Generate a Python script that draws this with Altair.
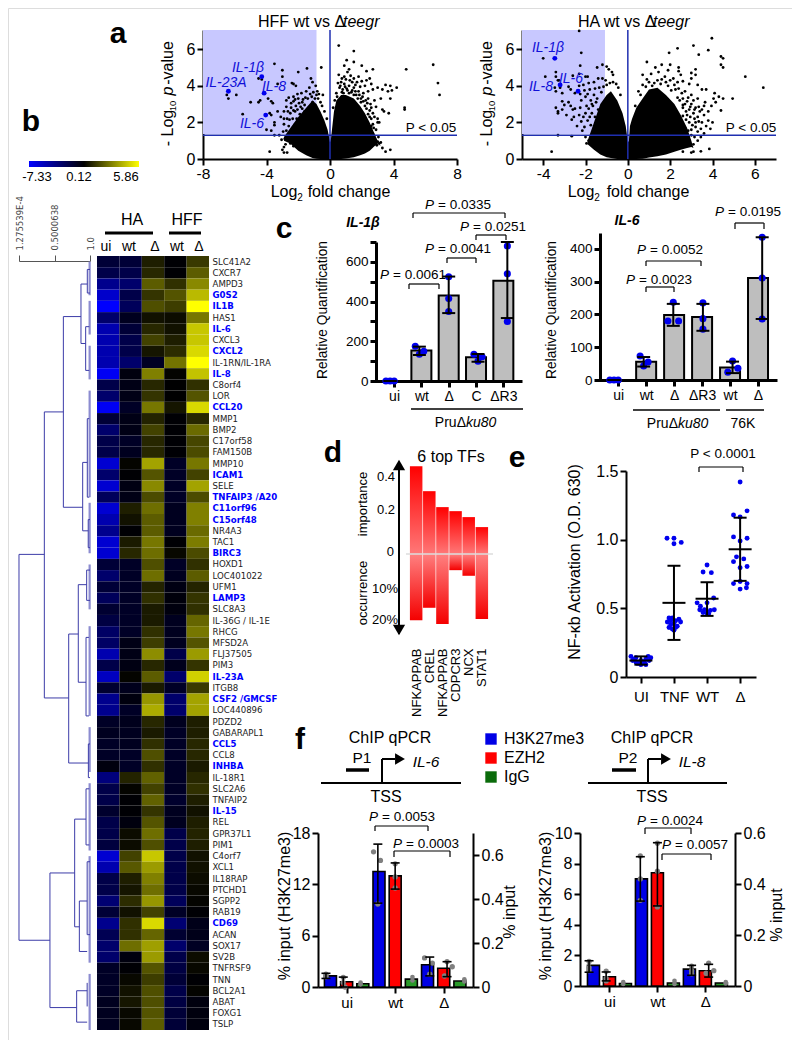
import altair as alt
import pandas as pd

W, H = 784, 1032
FONT = "Liberation Sans"
ONE = pd.DataFrame({"a": [0]})

# ---------- heat map ----------
genes = ["SLC41A2","CXCR7","AMPD3","G0S2","IL1B","HAS1","IL-6","CXCL3","CXCL2","IL-1RN/IL-1RA","IL-8","C8orf4","LOR","CCL20","MMP1","BMP2","C17orf58","FAM150B","MMP10","ICAM1","SELE","TNFAIP3 /A20","C11orf96","C15orf48","NR4A3","TAC1","BIRC3","HOXD1","LOC401022","UFM1","LAMP3","SLC8A3","IL-36G / IL-1E","RHCG","MFSD2A","FLJ37505","PIM3","IL-23A","ITGB8","CSF2 /GMCSF","LOC440896","PDZD2","GABARAPL1","CCL5","CCL8","INHBA","IL-18R1","SLC2A6","TNFAIP2","IL-15","REL","GPR37L1","PIM1","C4orf7","XCL1","IL18RAP","PTCHD1","SGPP2","RAB19","CD69","ACAN","SOX17","SV2B","TNFRSF9","TNN","BCL2A1","ABAT","FOXG1","TSLP"]
blue_genes = ["G0S2","IL1B","IL-6","CXCL2","IL-8","CCL20","ICAM1","TNFAIP3 /A20","C11orf96","C15orf48","BIRC3","LAMP3","IL-23A","CSF2 /GMCSF","CCL5","INHBA","IL-15","CD69"]
heat_cols = ["HA ui","HA wt","HA d","HFF wt","HFF d"]
ha_ui = [-1.5,-2,-4,-5.8,-7.3,-3,-5,-5,-5,-5,-7,-2,-3,-7,-1.5,-3,-2,-2,-6,-3,-6,-2.5,-6,-5,-4,-6,-6,-1.5,-3,-1.5,-2.5,-1.3,-1.8,-2.8,-2.8,-5,-2,-5.5,-1.3,-4,-4,-1,-0.8,-1,-1,-0.3,-3.5,-2,-2,-1.2,-2,-2,-1.7,-6,-5,-2,-2,-3.2,-1.5,-4,-2.3,-3,-3,-1,-1,-1,-0.8,-0.8,-0.8]
ha_wt = [-1.5,-2,-3,-2,-2.5,-0.8,-1.5,-2,-2,-3,-0.3,-0.5,-0.5,-1,-0.5,-0.5,-1,-0.8,0.2,0,-0.4,-0.5,0.8,0.5,0,0.7,1.0,-1,-1,-1,-1,-1,-1,-1,-0.5,-0.5,-0.4,0.2,-0.7,-0.3,-1,-0.7,-0.8,-0.8,-1,-1,0.9,0.2,0,0,-0.3,0.4,0.4,1.6,2.1,0.8,0.6,1.1,0.5,1.2,1.2,2.6,-0.3,0,0.3,0.5,0.6,0.3,0.3]
ha_d = [0.8,1.0,2.2,1.3,1.9,0.5,1.0,1.6,0.6,-0.9,3.0,1.0,1.3,2.8,0.9,1.6,1,1.0,3.8,2.0,3.2,1.8,2.6,2.2,2.2,2.8,2.6,1.9,2.6,0.9,1.2,0.7,0.7,1.2,1.5,3.3,1.0,2.2,0.7,3.5,4.0,1.0,0.7,1.2,1.9,1.2,2.3,1.6,2.3,1.3,2.0,2.6,1.9,4.6,3.6,3.0,2.6,3.5,1.6,5.0,2.4,3.7,3.6,2.0,1.5,1.9,1.9,2.0,2.2]
hff_wt = [0,0,1.2,2.0,1.5,0.4,0.5,0.8,1.1,2.7,0.2,0.1,0.1,0.6,0,0,0,0,-1,-1,-1,-1,-0.8,-0.8,-0.8,0,0.3,-1,-0.8,-0.4,-0.2,-0.3,-0.8,-0.8,-0.8,-2,-0.7,-3,-1,-3,-3,-0.8,-1,-1,-1,-1,-1,-1,-1.2,-0.8,-0.8,-2,-2,-2,-2,-2,-2,-2.5,-1,-3.2,-1.3,-3,-2,-1.8,-1.5,-2,-1.8,-1.5,-1.5]
hff_d = [1.4,2.2,3.2,4.3,5.86,2.8,4.6,4.6,5.0,5.86,4.5,1.2,2.0,5.0,1.0,2.5,1.7,1.8,2.8,1.6,3.8,1.8,3.0,3.0,2.5,2.9,1.8,1.2,2.2,0.9,1.3,1.2,2.4,2.8,2.0,3.6,1.3,4.8,1.4,3.8,3.8,0.8,0.8,1.0,1.0,0.7,1.0,1.2,0.8,0.5,0.8,0.9,0.8,0.5,0.5,0.4,0.3,0.2,0,-0.6,-0.6,-0.9,0.4,0.3,0,0.2,-0.3,-0.3,-0.3]
heat_values = [ha_ui, ha_wt, ha_d, hff_wt, hff_d]

# ---------- dendrogram (distance, row position) ----------
dend_h = [(0,.357,26.6),(0,.436,61),(.357,.625,13.9),(.357,.70,39.4),(.436,.784,55),(.436,.812,67),(.625,.873,5.4),(.625,.897,22.4),
          (.873,.962,2.5),(.873,.939,7.8),(.962,1,1.2),(.962,1,3.3),(.939,.99,6.3),(.939,.99,10.2),(.897,.962,18.4),(.897,.975,24.5),
          (.962,.99,14.5),(.962,.99,21.5),(.975,1,23.5),(.975,1,26),(.70,.835,33.7),(.70,.977,45.2),(.835,.953,29.3),(.835,.944,38),
          (.953,1,28),(.953,1,30.7),(.944,.985,34),(.944,.985,41),(.977,1,43.5),(.977,1,46.5),(.784,.944,50.2),(.784,.85,59.8),
          (.944,.99,47.5),(.944,.99,52.5),(.85,.96,57.5),(.85,.96,62),(.96,1,54),(.96,1,60.5),(.812,.96,65.5),(.812,.96,68.3)]
dend_v = [(0,26.6,61),(.357,13.9,39.4),(.436,55,67),(.625,5.4,22.4),(.873,2.5,7.8),(.962,1.2,3.3),(.939,6.3,10.2),(.897,18.4,24.5),
          (.962,14.5,21.5),(.975,23.5,26),(.70,33.7,45.2),(.835,29.3,38),(.953,28,30.7),(.944,34,41),(.977,43.5,46.5),(.784,50.2,59.8),
          (.944,47.5,52.5),(.85,57.5,62),(.96,54,60.5),(.812,65.5,68.3),(.96,64.8,66.9)]
dend_lav = [(0.5,3.5),(4,7),(8,11),(12,21.5),(22,26.5),(27.5,31.5),(33,41),(42,46),(47,53),(53.5,63),(64,69)]

# ---------- volcano plots ----------
hff_core_x = [-2.9,-2.5,-2,-1.5,-1.1,-0.85,-0.6,-0.35,-0.15,-0.05,0,0.06,0.15,0.25,0.4,0.7,1,1.5,1.9,2.2,2.5,2.8,3.0,3.2]
hff_core_top = [1.2,1.7,2.3,2.8,3.2,3.0,2.6,2.1,1.6,1.15,0.9,1.1,1.8,2.6,3.2,3.5,3.5,3.3,2.9,2.5,2.0,1.4,1.0,0.7]
hff_core_bot = [1.0,0.85,0.45,0.2,0.06,0.02,0,0,0,0,0,0,0,0,0,0,0.03,0.1,0.2,0.3,0.45,0.7,0.85,0.7]
hff_points = [(0.55,6.2),(1.5,5.9),(1.05,5.4),(1.5,5.3),(2.0,5.1),(0.9,5.1),(1.2,4.9),(1.1,4.75),(2.7,4.9),(2.3,4.8),(4.8,4.9),(6.5,5.15),(6.8,4.15),(6.9,3.5),(0.55,4.6),(0.9,4.5),(1.3,4.55),(1.5,4.4),(1.8,4.5),(1.4,4.2),(1.7,4.2),(2.0,4.25),(2.3,4.3),(2.5,4.4),(2.6,4.1),(2.2,4.0),(1.9,3.95),(2.7,3.8),(2.4,3.7),(2.1,3.6),(1.8,3.7),(1.5,3.9),(1.2,4.0),(0.9,4.1),(0.7,4.2),(0.5,4.15),(0.6,3.9),(0.8,3.8),(1.1,3.75),(1.35,3.65),(1.65,3.5),(1.95,3.3),(2.25,3.2),(2.55,3.0),(2.8,3.2),(2.9,2.85),(2.5,2.65),(2.2,2.9),(3.5,4.05),(3.8,4.0),(3.0,3.9),(3.3,3.8),(3.65,3.7),(4.2,3.9),(3.9,3.75),(3.2,3.3),(3.8,3.3),(4.7,2.8),(4.7,2.7),(3.3,2.7),(3.4,2.6),(3.7,2.5),(3.0,2.2),(3.0,2.0),(2.7,1.9),(2.75,1.7),(2.7,1.4),(2.8,1.1),(3.0,0.95),(2.95,0.75),(3.5,0.4),(3.8,0.5),(2.6,2.2),(2.4,2.45),(0.3,3.2),(0.2,2.8),(3.1,2.0),
    (0.75,4.4),(1.0,4.35),(1.25,4.3),(1.6,4.05),(0.65,4.0),(0.95,3.95),(1.05,3.85),(1.4,3.75),(1.6,3.7),(1.85,3.5),(2.05,3.4),(2.35,3.05),(2.6,2.8),(2.1,3.15),(2.3,2.75),(2.7,2.5),(2.5,2.3),(2.8,2.3),(2.9,1.6),(2.6,1.8),(3.05,1.2),(3.1,0.85),(2.4,3.3),(0.4,3.6),(0.45,3.4),(0.75,3.65),(0.85,3.6),(1.2,3.6),(1.5,3.5),(1.75,3.3),(1.95,3.1),(3.3,0.6),(3.2,0.9),
    (-3.5,5.2),(-3,4.85),(-3,4.5),(-3.3,4.1),(-4.5,4.4),(-2,4.75),(-1.45,4.95),(-0.55,5.0),(-2.3,4.1),(-2.4,4.15),(-2.15,4.0),(-1.2,4.4),(-1.1,4.2),(-0.9,4.0),(-0.8,3.7),(-0.7,3.55),(-1.3,3.9),(-1.5,3.7),(-1.8,3.6),(-2.05,3.55),(-2.3,3.4),(-2.6,3.35),(-2.75,3.2),(-2.3,3.15),(-2,3.3),(-1.7,3.25),(-1.4,3.3),(-1.15,3.4),(-0.95,3.3),(-1.1,3.1),(-1.6,2.95),(-1.85,2.85),(-2.15,2.9),(-2.45,2.8),(-2.75,2.85),(-2.9,2.6),(-2.5,2.5),(-2.2,2.6),(-1.9,2.45),(-1.6,2.6),(-1.3,2.7),(-2.7,2.2),(-2.9,2.2),(-3.1,2.3),(-2.35,2.2),(-2.1,2.2),(-2.9,1.9),(-2.6,1.8),(-2.35,1.65),(-2.2,1.9),(-1.8,2.2),(-6.5,3.5),(-6.4,3.3),(-5.9,3.5),(-5.5,2.45),(-5,3.1),(-4.5,3.1),(-4.4,3.2),(-3.9,3.3),(-3.7,3.15),(-3.6,3.05),(-3.8,2.5),(-3.7,2.4),(-3.3,2.6),(-3.5,2.0),(-3.5,1.85),(-3.7,1.55),(-4,1.6),(-3.5,1.3),(-3.2,1.3),(-3.8,0.4),(-3,0.5),(-2.9,0.35),(-2.7,0.35),(-2.9,0.65),(-2.6,1.05),(-2.85,1.1),(-2.5,0.85),(-2.3,0.7),(-4.3,4.35),
    (-2.45,3.05),(-2.2,3.25),(-1.95,3.05),(-1.75,3.1),(-1.55,3.35),(-1.25,3.55),(-1.05,3.65),(-0.85,3.5),(-0.75,3.3),(-0.6,3.1),(-0.5,2.9),(-0.45,3.5),(-0.35,2.6),(-2.55,2.15),(-2.65,2.6),(-1.75,2.75),(-2.05,2.7),(-2.3,2.65),(-0.2,2.2),(-2.95,1.5),(-2.75,1.55),(-3.05,1.05),(-2.8,0.8)]
hff_blue = [(-4.3,4.5),(-4.15,3.6),(-4.05,2.4),(-6.4,3.7)]

ha_core_x = [-1.9,-1.6,-1.3,-1,-0.8,-0.5,-0.25,-0.1,-0.03,0,0.05,0.1,0.2,0.4,0.7,1,1.4,1.8,2.2,2.5,2.8,3,3.1]
ha_core_top = [1.0,2.0,3.0,3.5,3.7,3.2,2.5,1.8,1.2,0.9,1.0,1.8,2.2,2.8,3.3,3.8,3.9,3.5,3.0,2.4,1.7,1.0,0.6]
ha_core_bot = [0.8,0.5,0.25,0.1,0.05,0,0,0,0,0,0,0,0,0,0.02,0.08,0.15,0.25,0.4,0.5,0.6,0.65,0.6]
ha_points = [(3.97,6.6),(3.1,6.2),(3.8,5.95),(2.35,6.05),(1.95,5.8),(3.35,5.7),(4.4,5.6),(4.5,5.5),(4.4,5.15),(4.5,5.0),(0.9,5.3),(1.6,5.15),(1.3,5.0),(2,5.15),(2.4,5.0),(3.2,4.9),(3.2,4.6),(3,4.7),(5.55,4.5),(6.4,3.9),(3,4.4),(2.5,4.6),(2.4,4.8),(1.9,4.85),(1.45,4.75),(1.1,4.65),(0.7,4.6),(1.75,4.5),(2.15,4.4),(2.6,4.25),(2.9,4.1),(3.3,4.05),(3.5,3.8),(3.7,3.8),(4.1,3.6),(4.3,3.4),(4.5,3.3),(4.95,3.3),(4.05,3.3),(4.15,3.1),(4.4,2.65),(3.95,2.9),(3.65,3.1),(3.3,3.3),(3,3.5),(2.7,3.7),(2.4,3.85),(2.2,4.05),(1.8,4.2),(1.4,4.3),(1,4.2),(0.7,4.05),(0.5,3.7),(0.35,2.9),(2.6,3.3),(2.8,3.15),(3,3.0),(3.2,2.8),(2.9,2.7),(2.6,2.8),(3.4,2.6),(3.6,2.4),(3.3,2.3),(3.1,2.5),(2.8,2.4),(2.6,2.35),(3.8,2.1),(3.5,2.0),(3.2,2.0),(2.9,2.0),(2.7,1.7),(3,1.6),(3.3,1.5),(3.7,1.8),(3.9,1.65),(3.45,1.2),(3.15,1.2),(2.85,1.2),(3.85,0.55),(2.5,0.8),(2.6,0.4),(3.0,0.35),(3.1,0.4),(3.45,0.42),(4.0,2.0),
    (1.6,4.35),(2.0,4.3),(2.35,4.2),(1.15,4.0),(1.55,4.1),(1.9,4.0),(2.25,3.8),(2.55,3.6),(2.85,3.35),(3.1,3.2),(2.45,3.2),(2.7,3.0),(2.95,2.85),(3.15,2.7),(3.35,2.85),(3.5,2.7),(2.75,2.6),(2.95,2.3),(3.15,2.2),(3.35,2.05),(2.75,2.15),(3.05,1.85),(2.85,1.55),(3.2,1.75),(3.45,1.65),(3.6,1.4),(2.6,2.95),(2.35,3.35),(3.0,1.3),(3.3,1.0),(2.9,1.0),(3.1,0.8),(0.9,4.35),(1.25,4.15),(0.85,3.95),(0.6,3.5),(2.05,3.75),(3.8,2.6),(3.6,2.9),
    (-2.3,7.0),(-2.2,5.8),(-4,5.5),(-2.25,5.1),(-1.2,5.15),(-1.45,5.0),(-1.0,5.05),(-0.9,4.9),(-0.75,4.75),(-0.7,4.6),(-2.3,4.65),(-2.6,4.55),(-2.0,4.5),(-1.9,4.5),(-3.4,4.75),(-3.4,4.5),(-3.3,4.3),(-3.9,4.5),(-3.25,4.3),(-3.2,3.9),(-3.45,3.9),(-3.4,3.7),(-3.1,3.6),(-2.8,3.95),(-2.7,3.8),(-2.5,3.6),(-2.3,4.0),(-2.1,4.05),(-1.85,4.15),(-1.6,4.2),(-1.4,4.4),(-1.2,4.4),(-1.05,4.3),(-2.05,3.75),(-1.8,3.8),(-1.55,3.85),(-1.35,3.9),(-1.25,3.65),(-1.6,3.5),(-2,3.4),(-2.2,3.2),(-1.75,3.2),(-1.95,2.9),(-2.25,2.8),(-2.5,2.75),(-1.65,2.9),(-1.5,3.1),(-1.4,2.7),(-1.7,2.5),(-2,2.5),(-2.3,2.4),(-2.55,2.3),(-2.65,2.15),(-2.2,2.05),(-1.9,2.1),(-1.55,2.3),(-3.1,3.15),(-3,2.95),(-2.8,3.1),(-2.7,2.9),(-3.4,2.8),(-3.3,2.5),(-3.1,2.7),(-3.3,2.6),(-2.9,2.4),(-2.6,2.7),(-3.3,1.3),(-2.65,1.25),(-2.0,1.2),(-1.85,1.0),(-1.95,0.85),(-3.6,0.4),(-2.4,1.8),
    (-1.15,3.95),(-1.0,4.05),(-0.85,4.15),(-0.7,4.2),(-0.55,4.1),(-0.45,3.9),(-0.35,3.5),(-1.7,3.0),(-1.85,2.75),(-2.1,2.3),(-1.8,2.3),(-2.05,1.75),(-1.75,1.85),(-1.45,3.3),(-1.9,3.55),(-2.25,3.55),(-2.15,1.55)]
ha_blue = [(-3.45,5.5),(-3.2,4.05),(-2.35,3.7)]

# ---------- qPCR bars ----------
c1_labels = ["ui","wt","Δ","C","ΔR3"]
c1_mean = [0,153,430,120,505]
c1_lo = [0,131,342,97,317]
c1_hi = [0,173,526,136,700]
c1_dot_x = [-0.14,0,0.14,0.86,1.15,1,2,2,2,2.86,3.14,3,4,4,4]
c1_dot_y = [0,0,0,175,150,135,525,415,350,135,122,100,680,540,300]

c2_labels = ["ui","wt","Δ","ΔR3","wt","Δ"]
c2_mean = [0,56,198,192,38,311]
c2_lo = [0,41,165,150,21,186]
c2_hi = [0,70,232,232,56,435]
c2_dot_x = [-0.14,0,0.14,0.88,1.15,1,2,1.82,2.18,3,3,3,4,4.18,3.84,5,5,5]
c2_dot_y = [0,0,0,73,55,43,237,180,180,235,187,155,58,36,24,435,311,186]

# ---------- TF bars ----------
tf_names = ["NFKAPPAB","CREL","NFKAPPAB","CDPCR3","NCX","STAT1"]
tf_importance = [0.457,0.327,0.244,0.223,0.192,0.14]
tf_occurrence = [20.1,16.3,21.2,4.9,6.6,19.7]

# ---------- NF-kb dot plot ----------
e_labels = ["UI","TNF","WT","Δ"]
e_mean = [0.12,0.54,0.57,0.93]
e_lo = [0.09,0.27,0.445,0.70]
e_hi = [0.15,0.81,0.69,1.16]
e_dot_x = [-0.3,-0.22,-0.15,-0.08,0,0.08,0.15,0.22,0.3,-0.25,-0.12,0,0.12,0.25,-0.15,0.15,
           0.79,1,1,1.22,0.85,0.95,1.05,1.15,0.8,0.9,1,1.1,1.2,0.85,0.95,1.05,0.9,1.0,
           2.0,1.88,2.13,1.7,2.0,2.2,1.8,1.92,2,2.1,2.22,1.78,1.88,2.05,
           3,2.8,3.21,3,2.8,3.21,3,2.89,3.11,2.8,3.21,3,2.8,3.21,3,3,3.19]
e_dot_y = [0.15,0.13,0.11,0.1,0.09,0.11,0.13,0.15,0.14,0.12,0.1,0.12,0.1,0.12,0.14,0.09,
           1.01,1.01,0.97,0.98,0.43,0.43,0.41,0.42,0.4,0.38,0.39,0.37,0.4,0.36,0.35,0.36,0.41,0.34,
           0.815,0.765,0.76,0.54,0.54,0.575,0.515,0.49,0.465,0.485,0.49,0.49,0.47,0.46,
           1.42,1.18,1.21,1.165,1.02,1.01,0.99,0.875,0.86,0.84,0.805,0.795,0.68,0.68,0.695,0.64,0.65]

# ---------- ChIP bars ----------
f1_blue = [1.3,13.5,2.6]; f1_blue_lo = [1.0,9.8,1.3]; f1_blue_hi = [1.6,16.7,3.5]
f1_blue_dots = [(0,1.5),(0,1.3),(0,1.2),(2.75,15.8),(3.15,14.8),(3,9.7),(5.7,3.4),(6.15,2.8),(6,1.5)]
f1_red = [0.024,0.505,0.085]; f1_red_lo = [0.0,0.445,0.047]; f1_red_hi = [0.045,0.564,0.115]
f1_red_dots = [(1,0.044),(1,0.02),(1.1,0),(4,0.56),(4,0.5),(4,0.45),(7,0.115),(7.3,0.092),(6.85,0.05)]
f1_green = [0.015,0.036,0.027]
f1_green_dots = [(2,0.02),(2,0.012),(5,0.045),(5,0.03),(8,0.035),(8,0.025)]

f2_blue = [1.35,7.0,1.1]; f2_blue_lo = [0.9,5.55,0.7]; f2_blue_hi = [1.65,8.45,1.35]
f2_blue_dots = [(0,1.6),(0,1.2),(0,1.0),(3,8.5),(3,7.0),(3,5.6),(6,1.3),(6,1.0),(6,0.8)]
f2_red = [0.036,0.444,0.06]; f2_red_lo = [0.02,0.314,0.035]; f2_red_hi = [0.055,0.562,0.085]
f2_red_dots = [(1,0.058),(1,0.03),(1,0.02),(4,0.56),(4,0.45),(4,0.31),(7,0.09),(7.3,0.06),(6.85,0.05)]
f2_green = [0.01,0.012,0.012]
f2_green_dots = [(2,0.015),(2,0.008),(5,0.02),(5,0.008),(8,0.015),(8,0.01)]
f_labels = ["ui","wt","Δ"]


# ---------- helpers ----------
def px(v):
    return v - 8

def Q(domain, rng):
    return alt.Scale(domain=domain, range=[px(r) for r in rng], nice=False, zero=False)

def txt(x, y, s, size=14, angle=0, align="center", color="black", weight="normal", style="normal", font=FONT):
    return alt.Chart(ONE).mark_text(text=s, fontSize=size, angle=angle, align=align, baseline="middle",
                                    color=color, fontWeight=weight, fontStyle=style, font=font).encode(
        x=alt.value(px(x)), y=alt.value(px(y)))

def hline(x1, x2, y, w=1.5, color="black"):
    return alt.Chart(ONE).mark_rule(color=color, strokeWidth=w).encode(
        x=alt.value(px(x1)), x2=alt.value(px(x2)), y=alt.value(px(y)))

def vline(x, y1, y2, w=1.5, color="black"):
    return alt.Chart(ONE).mark_rule(color=color, strokeWidth=w).encode(
        x=alt.value(px(x)), y=alt.value(px(y1)), y2=alt.value(px(y2)))

def sym(x, y, shape, size, color="black"):
    return alt.Chart(ONE).mark_point(shape=shape, size=size, filled=True, color=color, opacity=1).encode(
        x=alt.value(px(x)), y=alt.value(px(y)))

def bracket(x1, x2, y, drop, w=1.2):
    return [hline(x1, x2, y, w), vline(x1, y, y + drop, w), vline(x2, y, y + drop, w)]

def ptext(xc, y, rest, size=13.5, half=33):
    return [txt(xc - half, y, "P", size, align="left", style="italic"),
            txt(xc - half + 13, y, rest, size, align="left")]

def ax_left(x, values, size=15, expr="''+datum.value", dw=2, **kw):
    return alt.Axis(orient="left", offset=-px(x), values=values, title=None, grid=False, domainColor="black",
                    tickColor="black", labelColor="black", labelFontSize=size, labelFont=FONT, domainWidth=dw,
                    tickWidth=dw, tickSize=6, labelPadding=2, labelExpr=expr, **kw)

def ax_right(x, values, size=15, expr="''+datum.value", dw=2):
    return alt.Axis(orient="right", offset=px(x) - W, values=values, title=None, grid=False, domainColor="black",
                    tickColor="black", labelColor="black", labelFontSize=size, labelFont=FONT, domainWidth=dw,
                    tickWidth=dw, tickSize=6, labelPadding=2, labelExpr=expr)

def ax_bottom(y, values, size=15, expr="''+datum.value", dw=2, tick=6, pad=2):
    return alt.Axis(orient="bottom", offset=px(y) - H, values=values, title=None, grid=False, domainColor="black",
                    tickColor="black", labelColor="black", labelFontSize=size, labelFont=FONT, domainWidth=dw,
                    tickWidth=dw, tickSize=tick, labelPadding=pad, labelExpr=expr, labelFlush=False, labelOverlap=False)

def label_expr(labels):
    return "[" + ",".join("'" + l + "'" for l in labels) + "][datum.value]"

layers = []

# ---------- dendrogram ----------
dx = Q([0.000127, 1.0], [19, 90])
dy = Q([0, 69], [256, 1030])
DCOL = "#3c3ca8"
lav_df = pd.DataFrame(dend_lav, columns=["r1", "r2"])
layers.append(alt.Chart(lav_df).mark_rule(color="#8c8cd0", strokeWidth=2.2).encode(
    x=alt.datum(0.995, scale=dx, axis=None), y=alt.Y("r1:Q", scale=dy, axis=None), y2="r2:Q"))
dh_df = pd.DataFrame(dend_h, columns=["d1", "d2", "r"])
dscale_axis = alt.Axis(orient="top", offset=-px(261), values=[0.000127, 0.5000638, 1.0], title=None, grid=False,
                       domainColor="#555555", tickColor="#555555", labelColor="#444444", labelFont="DejaVu Sans",
                       labelFontSize=8.5, labelAngle=270, labelAlign="left", labelBaseline="middle", tickSize=6,
                       labelPadding=5, labelFlush=False, labelOverlap=False,
                       labelExpr="datum.value < 0.1 ? '1.275539E-4' : (datum.value < 0.9 ? '0.5000638' : '1.0')")
layers.append(alt.Chart(dh_df).mark_rule(color=DCOL, strokeWidth=1).encode(
    x=alt.X("d1:Q", scale=dx, axis=dscale_axis), x2="d2:Q", y=alt.Y("r:Q", scale=dy, axis=None)))
dv_df = pd.DataFrame(dend_v, columns=["d", "r1", "r2"])
layers.append(alt.Chart(dv_df).mark_rule(color=DCOL, strokeWidth=1).encode(
    x=alt.X("d:Q", scale=dx, axis=None), y=alt.Y("r1:Q", scale=dy, axis=None), y2="r2:Q"))

# ---------- heat map ----------
heat_rows = [{"gene": g, "col": c, "v": vals[i]} for c, vals in zip(heat_cols, heat_values) for i, g in enumerate(genes)]
gy = alt.Scale(domain=genes, range=[px(256), px(1030)], paddingInner=0, paddingOuter=0)
layers.append(alt.Chart(pd.DataFrame(heat_rows)).mark_rect().encode(
    x=alt.X("col:N", scale=alt.Scale(domain=heat_cols, range=[px(97), px(209)], paddingInner=0, paddingOuter=0), axis=None),
    y=alt.Y("gene:N", scale=gy, axis=None),
    color=alt.Color("v:Q", legend=None, scale=alt.Scale(domain=[-7.33, 0.12, 5.86], range=["#0000ff", "#000000", "#ffff00"], interpolate="rgb"))))
gene_df = pd.DataFrame({"gene": genes, "blue": [g in blue_genes for g in genes]})
layers.append(alt.Chart(gene_df[~gene_df.blue]).mark_text(align="left", baseline="middle", fontSize=8.6, font="DejaVu Sans", color="#222222").encode(
    x=alt.value(px(212.5)), y=alt.Y("gene:N", scale=gy, axis=None), text="gene:N"))
layers.append(alt.Chart(gene_df[gene_df.blue]).mark_text(align="left", baseline="middle", fontSize=8.6, font="DejaVu Sans", color="#0000ff", fontWeight="bold").encode(
    x=alt.value(px(212.5)), y=alt.Y("gene:N", scale=gy, axis=None), text="gene:N"))

layers.append(alt.Chart(ONE).mark_rect(color={"gradient": "linear", "x1": 0, "y1": 0, "x2": 1, "y2": 0,
    "stops": [{"offset": 0, "color": "#0000ff"}, {"offset": 0.5, "color": "#000000"}, {"offset": 1, "color": "#ffff00"}]}).encode(
    x=alt.value(px(29)), x2=alt.value(px(139)), y=alt.value(px(161)), y2=alt.value(px(167))))
layers += [txt(37, 177, "-7.33", 13), txt(79, 177, "0.12", 13), txt(126, 177, "5.86", 13)]
layers += [txt(132, 220, "HA", 16), txt(187, 220, "HFF", 16), hline(105, 153, 233, 3), hline(169, 201, 233, 3),
           txt(106, 247, "ui", 14), txt(129, 247, "wt", 14), txt(155, 247, "Δ", 14), txt(177, 247, "wt", 14), txt(199, 247, "Δ", 14)]

# ---------- volcano panels ----------
def volcano(core_x, core_top, core_bot, points, blue, sx, ticks_x):
    sy = Q([0, 7.05], [159, 30])
    out = []
    x_lo, x_hi = sx.domain
    shade = pd.DataFrame({"x": [x_lo], "x2": [-0.85 if x_lo == -8 else -1.08], "y": [1.36], "y2": [7.05]})
    out.append(alt.Chart(shade).mark_rect(color="#c8c8ff").encode(
        x=alt.X("x:Q", scale=sx, axis=None), x2="x2:Q", y=alt.Y("y:Q", scale=sy, axis=None), y2="y2:Q"))
    core = pd.DataFrame({"x": core_x, "t": core_top, "b": core_bot})
    out.append(alt.Chart(core).mark_area(color="black", orient="vertical").encode(
        x=alt.X("x:Q", scale=sx, axis=ax_bottom(159, ticks_x, 15.5, pad=1)),
        y=alt.Y("t:Q", scale=sy, stack=None, axis=ax_left(sx.range[0] + 8, [0, 2, 4, 6], 16)), y2="b:Q"))
    pts = pd.DataFrame(points, columns=["x", "y"])
    out.append(alt.Chart(pts).mark_circle(size=8, color="black", opacity=1).encode(
        x=alt.X("x:Q", scale=sx, axis=None), y=alt.Y("y:Q", scale=sy, axis=None)))
    ref_h = pd.DataFrame({"x": [x_lo], "x2": [x_hi], "y": [1.3]})
    out.append(alt.Chart(ref_h).mark_rule(color="#1f2fb0", strokeWidth=1.5).encode(
        x=alt.X("x:Q", scale=sx, axis=None), x2="x2:Q", y=alt.Y("y:Q", scale=sy, axis=None)))
    ref_v = pd.DataFrame({"x": [0], "y": [0], "y2": [7.05]})
    out.append(alt.Chart(ref_v).mark_rule(color="#1f2fb0", strokeWidth=1.5).encode(
        x=alt.X("x:Q", scale=sx, axis=None), y=alt.Y("y:Q", scale=sy, axis=None), y2="y2:Q"))
    bl = pd.DataFrame(blue, columns=["x", "y"])
    out.append(alt.Chart(bl).mark_circle(size=24, color="#0000ee", opacity=1).encode(
        x=alt.X("x:Q", scale=sx, axis=None), y=alt.Y("y:Q", scale=sy, axis=None)))
    return out

layers += volcano(hff_core_x, hff_core_top, hff_core_bot, hff_points, hff_blue, Q([-8, 8], [203, 457]), [-8, -4, 0, 4, 8])
layers += volcano(ha_core_x, ha_core_top, ha_core_bot, ha_points, ha_blue, Q([-5, 7], [522, 776]), [-4, -2, 0, 2, 4, 6])

BL = "#1010d8"
layers += [txt(258, 22, "HFF wt vs Δ", 16, align="left"), txt(343, 22, "teegr", 16, align="left", style="italic"),
           txt(248, 68, "IL-1β", 14, color=BL, style="italic"), txt(226, 83, "IL-23A", 14, color=BL, style="italic"),
           txt(274, 87, "IL-8", 14, color=BL, style="italic"), txt(252, 124, "IL-6", 14, color=BL, style="italic"),
           txt(431, 128, "P < 0.05", 13.5),
           txt(168, 128, "- Log", 16, angle=270), txt(173, 106, "10", 9.5, angle=270), txt(168, 91, "p", 16, angle=270, style="italic"),
           txt(168, 63, "-value", 16, angle=270),
           txt(284, 192, "Log", 16), txt(300, 198, "2", 10), txt(349, 192, "fold change", 16)]
layers += [txt(578, 22, "HA wt vs Δ", 16, align="left"), txt(653, 22, "teegr", 16, align="left", style="italic"),
           txt(548, 48, "IL-1β", 14, color=BL, style="italic"), txt(541, 87, "IL-8", 14, color=BL, style="italic"),
           txt(571, 79, "IL-6", 14, color=BL, style="italic"),
           txt(751, 128, "P < 0.05", 13.5),
           txt(487, 128, "- Log", 16, angle=270), txt(492, 106, "10", 9.5, angle=270), txt(487, 91, "p", 16, angle=270, style="italic"),
           txt(487, 63, "-value", 16, angle=270),
           txt(581, 192, "Log", 16), txt(597, 198, "2", 10), txt(648, 192, "fold change", 16)]

# ---------- generic bar + error panel ----------
def bar_layers(xpos, mean, lo, hi, dots, sx, sy, xaxis, yaxis, fill, bar_w, cap_w, dot_col, dot_size, sw=2):
    df = pd.DataFrame({"x": xpos, "m": mean, "lo": lo, "hi": hi})
    dd = pd.DataFrame(dots, columns=["x", "y"])
    return [
        alt.Chart(df).mark_bar(size=bar_w, orient="vertical", fill=fill, stroke="black", strokeWidth=sw).encode(
            x=alt.X("x:Q", scale=sx, axis=xaxis), y=alt.Y("m:Q", scale=sy, stack=None, axis=yaxis)),
        alt.Chart(dd).mark_circle(size=dot_size, color=dot_col, opacity=1).encode(
            x=alt.X("x:Q", scale=sx, axis=None), y=alt.Y("y:Q", scale=sy, axis=None)),
        alt.Chart(df).mark_rule(color="black", strokeWidth=sw).encode(
            x=alt.X("x:Q", scale=sx, axis=None), y=alt.Y("lo:Q", scale=sy, axis=None), y2="hi:Q"),
        alt.Chart(df).mark_tick(orient="horizontal", size=cap_w, thickness=sw, color="black", opacity=1).encode(
            x=alt.X("x:Q", scale=sx, axis=None), y=alt.Y("lo:Q", scale=sy, axis=None)),
        alt.Chart(df).mark_tick(orient="horizontal", size=cap_w, thickness=sw, color="black", opacity=1).encode(
            x=alt.X("x:Q", scale=sx, axis=None), y=alt.Y("hi:Q", scale=sy, axis=None)),
    ]

# panel c, left
c1_sx = Q([-0.5, 4.5], [375.4, 522])
c1_sy = Q([0, 700], [381, 242])
layers += bar_layers(list(range(5)), c1_mean, c1_lo, c1_hi, list(zip(c1_dot_x, c1_dot_y)), c1_sx, c1_sy,
    ax_bottom(381, list(range(5)), 14, label_expr(c1_labels), 3),
    ax_left(376, [0,100,200,300,400,500,600,700], 13.5, "datum.value % 200 == 0 ? ''+datum.value : ''", 3),
    "#bebebe", 20, 13, "#0000ee", 50)
layers += [txt(363, 223, "IL-1β", 14, weight="bold", style="italic"),
           txt(323, 310, "Relative Quantification", 13.8, angle=270),
           hline(411, 523, 409, 1.5), txt(466, 423, "PruΔ", 14, align="right"),
           txt(466, 423, "ku80", 14, align="left", style="italic")]
layers += ptext(458, 205, "= 0.0335") + bracket(413, 505, 213, 5)
layers += ptext(493, 227, "= 0.0251") + bracket(476, 506, 235, 5)
layers += ptext(458, 249, "= 0.0041") + bracket(447, 476, 258, 5)
layers += ptext(413, 275, "= 0.0061") + bracket(409, 439, 284, 5)

# panel c, right
c2_sx = Q([-0.5, 5.5], [599.2, 777])
c2_sy = Q([0, 448], [380, 233])
layers += bar_layers(list(range(6)), c2_mean, c2_lo, c2_hi, list(zip(c2_dot_x, c2_dot_y)), c2_sx, c2_sy,
    ax_bottom(380, list(range(6)), 14, label_expr(c2_labels), 3),
    ax_left(600, [0,100,200,300,400], 13.5, "''+datum.value", 3),
    "#bebebe", 20, 13, "#0000ee", 50)
layers += [txt(627, 221, "IL-6", 14, weight="bold", style="italic"),
           txt(552, 310, "Relative Quantification", 13.8, angle=270),
           hline(633, 720, 410, 1.5), hline(726, 764, 410, 1.5),
           txt(678, 424, "PruΔ", 14, align="right"), txt(678, 424, "ku80", 14, align="left", style="italic"),
           txt(743, 424, "76K", 14)]
layers += ptext(748, 212, "= 0.0195") + bracket(735, 764, 223, 6)
layers += ptext(670, 250, "= 0.0052") + bracket(646, 701, 261, 5)
layers += ptext(659, 280, "= 0.0023") + bracket(646, 674, 287, 5)

# panel d
d_sx = Q([-0.5, 5.5], [404.6, 493.4])
d_up = Q([0, 0.458], [554, 466])
d_dn = Q([0, 26.67], [554, 642])
tf_df = pd.DataFrame({"x": list(range(6)), "imp": tf_importance, "occ": tf_occurrence})
d_axis = alt.Axis(orient="bottom", offset=px(646) - H, values=list(range(6)), title=None, grid=False, domain=False, ticks=False,
                  labelColor="black", labelFont=FONT, labelFontSize=13, labelAngle=270, labelAlign="right", labelBaseline="middle",
                  labelPadding=2, labelExpr=label_expr(tf_names), labelOverlap=False, labelFlush=False)
layers.append(alt.Chart(tf_df).mark_bar(size=12.5, orient="vertical", color={"gradient": "linear", "x1": 0, "y1": 0, "x2": 0, "y2": 1,
    "stops": [{"offset": 0, "color": "#ff0000"}, {"offset": 1, "color": "#ff7878"}]}).encode(
    x=alt.X("x:Q", scale=d_sx, axis=d_axis), y=alt.Y("imp:Q", scale=d_up, stack=None, axis=None)))
layers.append(alt.Chart(tf_df).mark_bar(size=12.5, orient="vertical", color={"gradient": "linear", "x1": 0, "y1": 0, "x2": 0, "y2": 1,
    "stops": [{"offset": 0, "color": "#ff8080"}, {"offset": 1, "color": "#f40000"}]}).encode(
    x=alt.X("x:Q", scale=d_sx, axis=None), y=alt.Y("occ:Q", scale=d_dn, stack=None, axis=None)))
layers += [hline(406, 493, 554, 1.5, "#dddddd"), vline(399, 462, 634, 2),
           sym(399, 465, "triangle-up", 150), sym(399, 630, "triangle-down", 150),
           txt(451, 457, "6 top TFs", 16), txt(395, 477, "0.4", 13, align="right"), txt(395, 510, "0.2", 13, align="right"),
           txt(394, 552, "0", 13, align="right"), txt(398, 589, "10%", 13, align="right"), txt(398, 620, "20%", 13, align="right"),
           txt(363, 504, "importance", 13, angle=270), txt(363, 593, "occurrence", 13, angle=270)]

# panel e
e_sx = Q([-0.45, 3.48], [626, 756])
e_sy = Q([0, 1.5], [677, 471])
e_dots = pd.DataFrame({"x": e_dot_x, "y": e_dot_y})
e_df = pd.DataFrame({"x": list(range(4)), "m": e_mean, "lo": e_lo, "hi": e_hi})
layers.append(alt.Chart(e_dots).mark_circle(size=24, color="#0000ee", opacity=1).encode(
    x=alt.X("x:Q", scale=e_sx, axis=ax_bottom(677, list(range(4)), 15, label_expr(e_labels), 2, pad=6)),
    y=alt.Y("y:Q", scale=e_sy, axis=ax_left(626, [0, 0.5, 1.0, 1.5], 16, "datum.value == 0 ? '0' : format(datum.value, '.1f')"))))
layers.append(alt.Chart(e_df).mark_rule(color="black", strokeWidth=2).encode(
    x=alt.X("x:Q", scale=e_sx, axis=None), y=alt.Y("lo:Q", scale=e_sy, axis=None), y2="hi:Q"))
for field, size in [("lo", 13), ("hi", 13), ("m", 23)]:
    layers.append(alt.Chart(e_df).mark_tick(orient="horizontal", size=size, thickness=2, color="black", opacity=1).encode(
        x=alt.X("x:Q", scale=e_sx, axis=None), y=alt.Y(field + ":Q", scale=e_sy, axis=None)))
layers += [txt(575, 562, "NF-κb Activation (O.D. 630)", 16, angle=270), txt(723, 454, "P < 0.0001", 13.5)]
layers += bracket(699, 743, 467, 5)

# panel f
def chip(sx, left_dom, left_rng, right_dom, right_rng, left_ax_x, right_ax_x, left_ticks, right_ticks,
         blue, blo, bhi, bdots, red, rlo, rhi, rdots, green, gdots):
    sl = Q(left_dom, left_rng)
    sr = Q(right_dom, right_rng)
    out = bar_layers([0, 3, 6], blue, blo, bhi, bdots, sx, sl,
                     ax_bottom(left_rng[0], [1, 4, 7], 15, "{1:'ui',4:'wt',7:'Δ'}[datum.value]", 2),
                     ax_left(left_ax_x, left_ticks, 16), "#0000e6", 12, 9, "#808080", 28, 1.6)
    out += bar_layers([1, 4, 7], red, rlo, rhi, rdots, sx, sr, None,
                      ax_right(right_ax_x, right_ticks, 16), "#ff0000", 12, 9, "#808080", 28, 1.6)
    gdf = pd.DataFrame({"x": [2, 5, 8], "m": green})
    out.append(alt.Chart(gdf).mark_bar(size=12, orient="vertical", fill="#2a9a2a", stroke="black", strokeWidth=1.6).encode(
        x=alt.X("x:Q", scale=sx, axis=None), y=alt.Y("m:Q", scale=sr, stack=None, axis=None)))
    gd = pd.DataFrame(gdots, columns=["x", "y"])
    out.append(alt.Chart(gd).mark_circle(size=22, color="#808080", opacity=1).encode(
        x=alt.X("x:Q", scale=sx, axis=None), y=alt.Y("y:Q", scale=sr, axis=None)))
    return out

layers += chip(Q([-0.46, 8.5], [318, 473]), [0, 18], [987, 833], [0, 0.7], [987, 833], 318, 473, [0, 6, 12, 18], [0, 0.2, 0.4, 0.6],
               f1_blue, f1_blue_lo, f1_blue_hi, f1_blue_dots, f1_red, f1_red_lo, f1_red_hi, f1_red_dots, f1_green, f1_green_dots)
layers += chip(Q([-0.53, 8.54], [580, 735]), [0, 10], [986, 833], [0, 0.6], [986, 833], 580, 735, [0, 2, 4, 6, 8, 10], [0, 0.2, 0.4, 0.6],
               f2_blue, f2_blue_lo, f2_blue_hi, f2_blue_dots, f2_red, f2_red_lo, f2_red_hi, f2_red_dots, f2_green, f2_green_dots)

def gene_diagram(xc_title, p_label, px_label, bar1, bar2, line1, line2, tss, gene, gene_x, tss_text_x):
    return [txt(xc_title, 738, "ChIP qPCR", 16), txt(px_label, 758, p_label, 15.5), hline(bar1, bar2, 770, 3.5),
            hline(line1, line2, 783, 2), vline(tss, 759, 783, 2), hline(tss, tss + 13, 759, 2),
            sym(tss + 18, 759, "triangle-right", 130), txt(gene_x, 762, gene, 15.5, style="italic"),
            txt(tss_text_x, 797, "TSS", 16)]

layers += gene_diagram(390, "P1", 362, 346, 369, 321, 461, 382, "IL-6", 426, 386)
layers += gene_diagram(652, "P2", 628, 612, 636, 588, 727, 648, "IL-8", 692, 652)
layers += [sym(491, 739, "square", 130, "#0000e6"), sym(491, 758, "square", 130, "#ff0000"), sym(491, 777, "square", 130, "#0a6b0a"),
           txt(504, 739, "H3K27me3", 16, align="left"), txt(504, 758, "EZH2", 16, align="left"), txt(504, 777, "IgG", 16, align="left"),
           txt(285, 906, "% input (H3K27me3)", 16, angle=270), txt(510, 912, "% input", 16, angle=270),
           txt(546, 906, "% input (H3K27me3)", 16, angle=270), txt(777, 915, "% input", 16, angle=270)]
layers += ptext(402, 817, "= 0.0053") + bracket(375, 428, 826, 5)
layers += ptext(426, 844, "= 0.0003") + bracket(394, 450, 851, 6)
layers += ptext(670, 821, "= 0.0024") + bracket(645, 691, 828, 6)
layers += ptext(695, 845, "= 0.0057") + bracket(662, 711, 854, 6)

# panel letters
for s, x, y in [("a", 118, 34), ("b", 31, 122), ("c", 284, 229), ("d", 333, 453), ("e", 517, 458), ("f", 300, 740)]:
    layers.append(txt(x, y, s, 30, weight="bold"))

chart = alt.layer(*layers).resolve_scale(x="independent", y="independent", color="independent").properties(
    width=W, height=H, padding=0, autosize=alt.AutoSizeParams(type="none")
).configure_view(stroke=None).configure(font=FONT)

chart.save("out.html", embed_options={"renderer": "svg", "actions": False})
